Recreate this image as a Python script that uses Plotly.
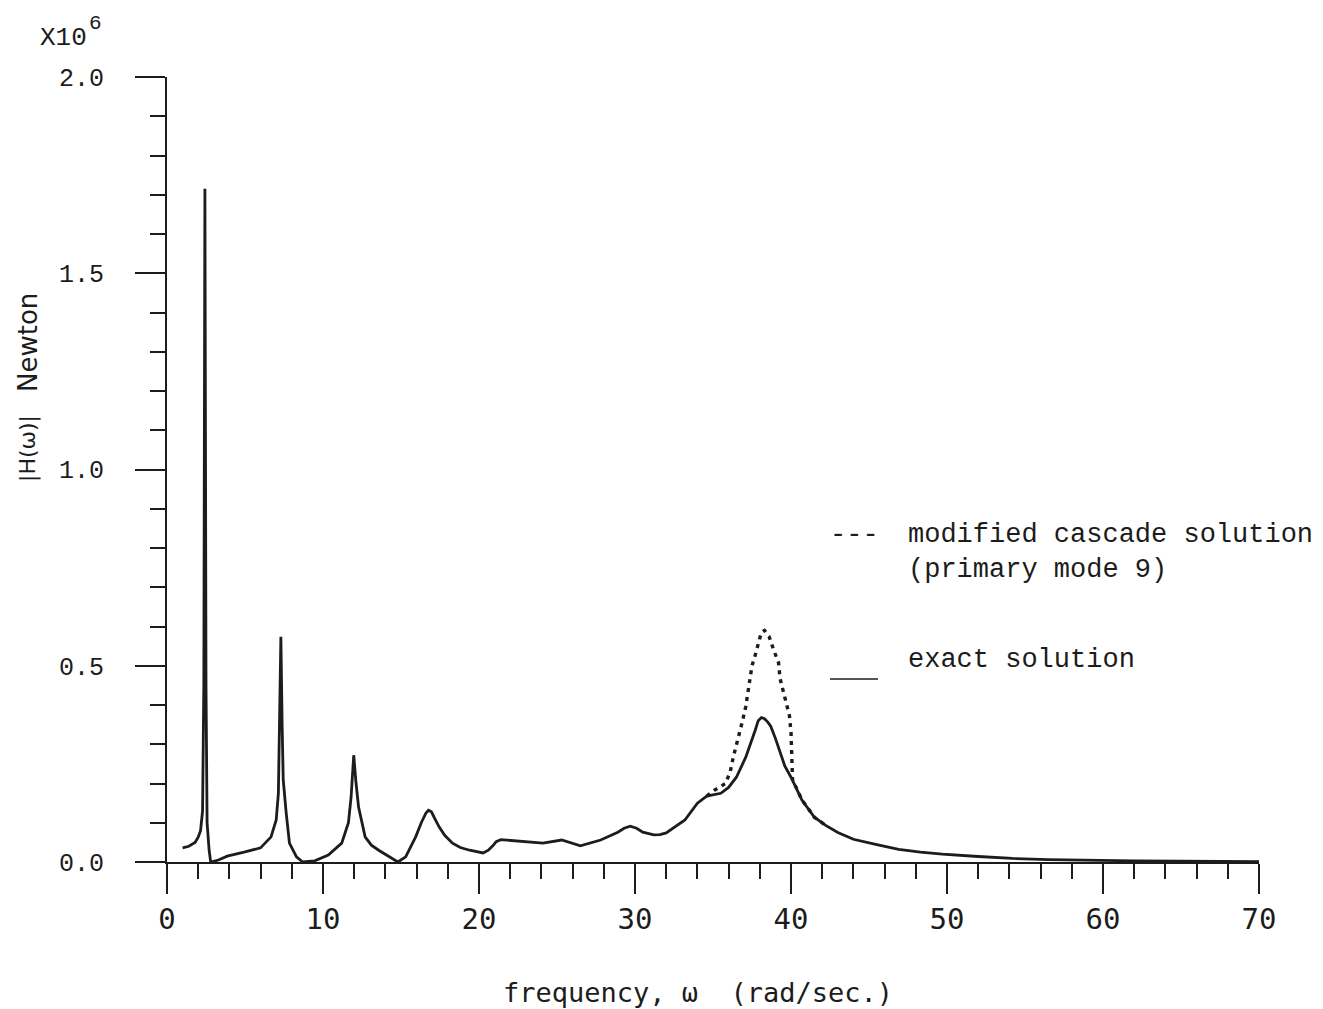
import plotly.graph_objects as go

# ---- data ----
exact_x = [1.0, 1.4, 1.8, 2.0, 2.15, 2.28, 2.36, 2.43, 2.5, 2.57, 2.7, 2.8, 3.3, 3.86, 4.94, 6.0, 6.67,
           7.0, 7.14, 7.22, 7.3, 7.38, 7.45, 7.64, 7.85, 8.3, 8.7, 9.47, 10.34, 11.2, 11.63, 11.8,
           11.97, 12.12, 12.28, 12.7, 13.1, 13.57, 14.43, 14.8, 15.3, 15.94, 16.3, 16.6, 16.76, 16.95,
           17.2, 17.45, 17.8, 18.3, 18.8, 19.4, 20.26, 20.6, 20.9, 21.1, 21.4, 22.0, 22.8, 24.1, 25.3,
           26.5, 27.8, 28.9, 29.3, 29.7, 30.1, 30.5, 31.2, 31.6, 32.0, 32.6, 33.2, 34.0, 34.6, 35.5,
           36.0, 36.5, 37.1, 37.7, 37.9, 38.1, 38.3, 38.5, 38.7, 39.0, 39.3, 39.6, 40.0, 40.7, 41.5,
           42.2, 43.0, 44.0, 45.5, 46.9, 48.3, 49.7, 52.0, 54.2, 56.5, 58.9, 62.0, 65.0, 70.0]
exact_y = [0.036, 0.040, 0.050, 0.063, 0.08, 0.13, 0.45, 1.715, 0.45, 0.10, 0.03, 0.0, 0.005, 0.015, 0.025, 0.036, 0.064,
           0.107, 0.175, 0.35, 0.574, 0.35, 0.21, 0.125, 0.048, 0.013, 0.0, 0.003, 0.018, 0.048, 0.10, 0.165,
           0.272, 0.20, 0.14, 0.064, 0.043, 0.03, 0.01, 0.0, 0.013, 0.064, 0.10, 0.125, 0.132, 0.128,
           0.108, 0.089, 0.068, 0.048, 0.037, 0.03, 0.023, 0.03, 0.042, 0.052, 0.057, 0.055, 0.051, 0.048, 0.056,
           0.041, 0.056, 0.076, 0.086, 0.091, 0.086, 0.076, 0.069, 0.070, 0.074, 0.09, 0.107, 0.15, 0.168, 0.175,
           0.19, 0.216, 0.267, 0.335, 0.36, 0.368, 0.365, 0.357, 0.346, 0.315, 0.277, 0.245, 0.216, 0.158, 0.114,
           0.094, 0.075, 0.058, 0.044, 0.032, 0.025, 0.020, 0.014, 0.009, 0.006, 0.004, 0.003, 0.002, 0.001]

cascade_x = [34.6, 35.1, 35.8, 36.1, 36.3, 36.5, 36.7, 36.9, 37.1, 37.2, 37.4, 37.5, 37.7, 37.9, 38.1,
             38.3, 38.6, 38.9, 39.2, 39.3, 39.5, 39.7, 39.9, 40.0, 40.05, 40.05, 40.1, 40.7, 41.5, 42.2]
cascade_y = [0.168, 0.183, 0.20, 0.229, 0.267, 0.297, 0.328, 0.361, 0.396, 0.42, 0.47, 0.50, 0.526, 0.556, 0.585,
             0.59, 0.574, 0.539, 0.508, 0.467, 0.437, 0.406, 0.373, 0.33, 0.27, 0.24, 0.21, 0.158, 0.114, 0.094]

x_tick_vals = [0, 10, 20, 30, 40, 50, 60, 70]
x_tick_text = ["0", "10", "20", "30", "40", "50", "60", "70"]
y_tick_vals = [0.0, 0.5, 1.0, 1.5, 2.0]
y_tick_text = ["0.0", "0.5", "1.0", "1.5", "2.0"]

INK = "#1c1c1c"

fig = go.Figure()
fig.add_trace(go.Scatter(x=exact_x, y=exact_y, mode="lines", name="exact solution",
                         line=dict(color=INK, width=2.8)))
fig.add_trace(go.Scatter(x=cascade_x, y=cascade_y, mode="lines",
                         name="modified cascade solution (primary mode 9)",
                         line=dict(color=INK, width=3.4, dash="4px,5px")))

OFF = 8  # page body margin
W, H = 1315, 1001
L, T = 167 - OFF, 77 - OFF
R = W - (1259 - OFF)
B = H - (862 - OFF)
pw, ph = W - L - R, H - T - B


def px(xp):
    return (xp - OFF - L) / pw


def py(yp):
    return (H - B - (yp - OFF)) / ph


fig.update_layout(
    width=W, height=H,
    margin=dict(l=L, r=R, t=T, b=B),
    paper_bgcolor="white", plot_bgcolor="white",
    showlegend=False,
    xaxis=dict(range=[0, 70], showgrid=False, zeroline=False, showline=True,
               linecolor=INK, linewidth=2, ticks="outside", ticklen=30, tickwidth=2,
               tickcolor=INK, tickvals=x_tick_vals, ticktext=x_tick_text,
               tickfont=dict(family="DejaVu Sans Mono", size=29, color=INK),
               minor=dict(dtick=2, tick0=0, ticks="outside", ticklen=15, tickwidth=2,
                          tickcolor=INK, showgrid=False)),
    yaxis=dict(range=[0, 2.0], showgrid=False, zeroline=False, showline=True,
               linecolor=INK, linewidth=2, ticks="outside", ticklen=30, tickwidth=2,
               tickcolor=INK, tickvals=y_tick_vals, ticktext=y_tick_text,
               ticklabelstandoff=26,
               tickfont=dict(family="Liberation Mono", size=25, color=INK),
               minor=dict(dtick=0.1, tick0=0, ticks="outside", ticklen=15, tickwidth=2,
                          tickcolor=INK, showgrid=False)),
)

ann_font = dict(family="Liberation Mono", size=27, color=INK)
fig.add_annotation(xref="paper", yref="paper", x=px(828), y=py(535), text="---",
                   showarrow=False, xanchor="left", yanchor="middle", font=ann_font)
fig.add_annotation(xref="paper", yref="paper", x=px(906), y=py(535),
                   text="modified cascade solution", showarrow=False,
                   xanchor="left", yanchor="middle", font=ann_font)
fig.add_annotation(xref="paper", yref="paper", x=px(906), y=py(570),
                   text="(primary mode 9)", showarrow=False,
                   xanchor="left", yanchor="middle", font=ann_font)
fig.add_annotation(xref="paper", yref="paper", x=px(906), y=py(660),
                   text="exact solution", showarrow=False,
                   xanchor="left", yanchor="middle", font=ann_font)
fig.add_shape(type="line", xref="paper", yref="paper", x0=px(830), x1=px(878),
              y0=py(679), y1=py(679), line=dict(color=INK, width=1.5))

fig.add_annotation(xref="paper", yref="paper", x=px(38), y=py(38),
                   text="X10", showarrow=False, xanchor="left", yanchor="middle",
                   font=dict(family="Liberation Mono", size=26, color=INK))
fig.add_annotation(xref="paper", yref="paper", x=px(87), y=py(23),
                   text="6", showarrow=False, xanchor="left", yanchor="middle",
                   font=dict(family="Liberation Mono", size=21, color=INK))
fig.add_annotation(xref="paper", yref="paper", x=px(28), y=py(449),
                   text="|H(ω)|", textangle=-90, showarrow=False,
                   xanchor="center", yanchor="middle",
                   font=dict(family="DejaVu Sans", size=22, color=INK))
fig.add_annotation(xref="paper", yref="paper", x=px(28), y=py(343),
                   text="Newton", textangle=-90, showarrow=False,
                   xanchor="center", yanchor="middle",
                   font=dict(family="DejaVu Sans", size=26, color=INK))
fig.add_annotation(xref="paper", yref="paper", x=px(698), y=py(992),
                   text="frequency, ω  (rad/sec.)", showarrow=False,
                   xanchor="center", yanchor="middle",
                   font=dict(family="DejaVu Sans Mono", size=27, color=INK))

fig.write_html("out.html")
